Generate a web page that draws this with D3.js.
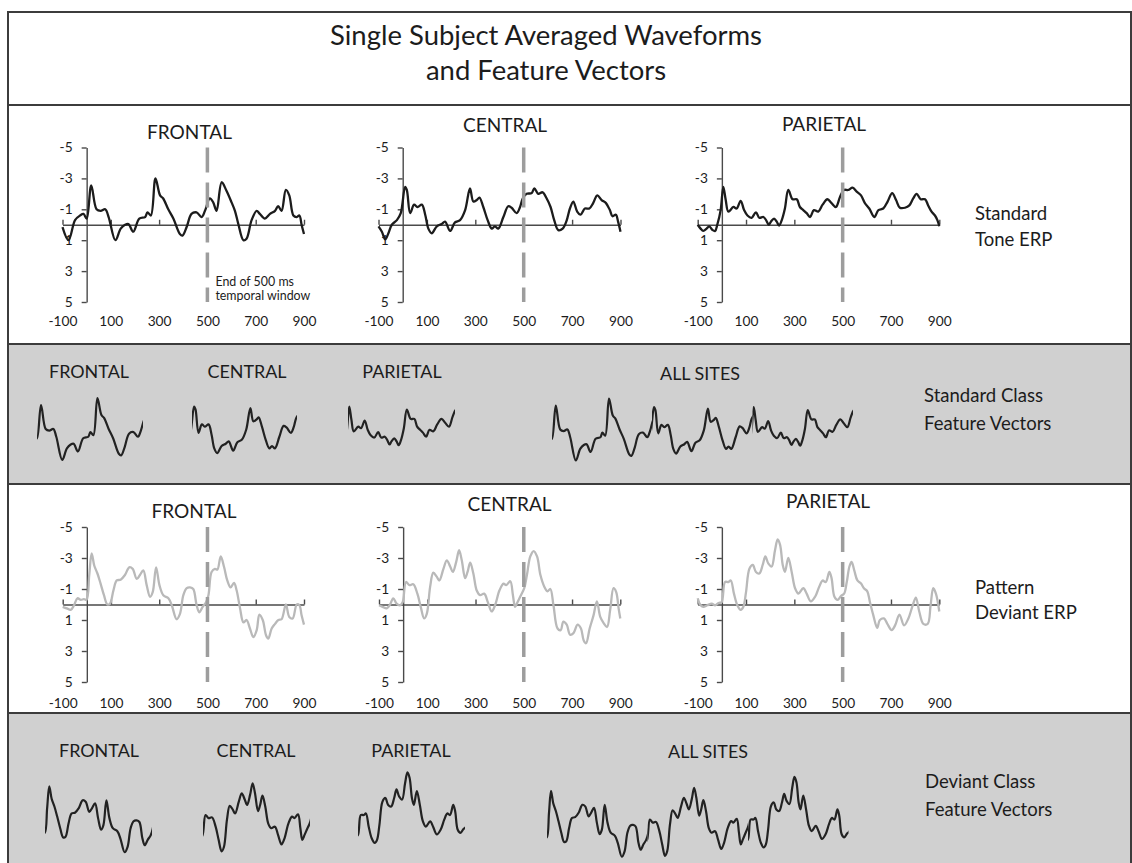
<!DOCTYPE html>
<html><head><meta charset="utf-8">
<script src="https://cdn.jsdelivr.net/npm/d3@7"></script>
<style>
body{margin:0;background:#fff}
svg{display:block}
text{font-family:Lato,"Open Sans",sans-serif;fill:#1c1c1c}
</style>
</head><body>
<svg id="c" width="1132" height="863"></svg>
<script>
// ---------------- DATA ----------------
const titleLines = ["Single Subject Averaged Waveforms", "and Feature Vectors"];
const sites = ["FRONTAL", "CENTRAL", "PARIETAL"];
const allSitesLabel = "ALL SITES";
const xTickValues = [-100, 100, 300, 500, 700, 900];
const yTickValues = [-5, -3, -1, 1, 3, 5];
const windowEnd = 500;
const windowNote = ["End of 500 ms", "temporal window"];
const rowLabels = [["Standard", "Tone ERP"], ["Standard Class", "Feature Vectors"], ["Pattern", "Deviant ERP"], ["Deviant Class", "Feature Vectors"]];

// [time ms, amplitude µV]  (negative plotted up)
const stdFrontal = [[-100,0.15],[-75,1.0],[-48,-0.3],[-27,-0.6],[-13,-0.7],[0,-0.4],[19,-2.55],[41,-1.0],[58,-0.9],[77,-1.0],[91,-0.5],[119,1.0],[141,0.25],[159,0.0],[173,-0.05],[193,0.45],[218,-0.4],[242,-0.5],[252,-0.8],[266,-0.6],[285,-3.0],[304,-1.9],[317,-1.7],[338,-1.0],[359,-0.4],[386,0.6],[397,0.7],[414,0.15],[434,-0.7],[455,-0.8],[476,-0.5],[490,-0.9],[510,-1.7],[524,-1.45],[538,-0.9],[559,-2.75],[579,-2.2],[600,-1.45],[614,-0.9],[628,-0.05],[649,1.0],[662,0.9],[683,-0.3],[704,-0.9],[717,-0.7],[738,-0.4],[759,-0.7],[780,-0.9],[793,-1.2],[807,-0.9],[825,-2.25],[839,-1.9],[856,-0.6],[870,-0.5],[881,-0.6],[890,0.0],[900,0.6]];
const stdCentral = [[-100,0.1],[-86,0.45],[-72,0.95],[-59,0.55],[-45,0.0],[-24,-0.3],[-8,-0.75],[10,-2.45],[17,-2.25],[31,-0.75],[47,-1.3],[61,-1.15],[79,-1.3],[93,-0.65],[106,0.25],[120,0.55],[141,0.1],[161,-0.05],[175,-0.2],[196,0.4],[216,-0.15],[237,-0.3],[258,-0.95],[278,-2.35],[292,-1.5],[306,-1.6],[317,-1.75],[333,-1.15],[351,-0.3],[368,0.25],[381,0.1],[395,0.25],[416,-0.5],[436,-1.2],[450,-1.1],[471,-0.75],[485,-1.15],[496,-1.7],[512,-2.0],[533,-2.05],[544,-2.35],[560,-2.0],[578,-2.1],[595,-1.7],[611,-1.15],[626,-0.3],[643,0.35],[661,0.25],[677,-0.25],[691,-1.05],[705,-1.5],[721,-0.85],[735,-0.65],[753,-1.05],[771,-1.05],[787,-1.4],[804,-1.9],[822,-1.6],[840,-1.4],[856,-0.95],[867,-0.55],[881,-0.65],[890,-0.2],[900,0.45]];
const stdParietal = [[-100,0.0],[-88,0.25],[-77,0.4],[-63,0.25],[-52,0.1],[-38,0.35],[-28,0.4],[-19,0.0],[-5,-0.95],[6,-2.45],[16,-1.6],[27,-0.85],[48,-1.15],[61,-1.05],[78,-1.55],[92,-0.95],[106,-0.6],[123,-0.45],[141,-0.8],[155,-0.45],[172,-0.5],[183,-0.3],[194,0.0],[203,-0.2],[216,-0.4],[227,-0.2],[237,0.05],[248,-0.3],[261,-1.05],[275,-2.25],[293,-1.65],[310,-1.65],[323,-1.15],[337,-0.95],[351,-0.75],[365,-0.5],[381,-0.95],[399,-0.85],[417,-1.3],[437,-1.65],[454,-1.4],[472,-1.15],[489,-1.8],[505,-2.25],[523,-2.25],[541,-2.4],[558,-2.15],[576,-1.9],[592,-1.4],[610,-1.05],[631,-0.5],[648,-0.95],[668,-1.05],[686,-1.5],[705,-2.05],[721,-1.6],[737,-1.1],[758,-1.1],[776,-1.25],[792,-1.7],[806,-2.0],[823,-1.65],[841,-1.65],[854,-1.25],[868,-0.85],[882,-0.6],[892,-0.3],[900,0.1]];
const devFrontal = [[-100,0.15],[-83,0.25],[-67,0.35],[-53,0.05],[-39,-0.4],[-25,-0.3],[-12,-0.35],[-1,-0.3],[10,-1.9],[20,-3.3],[31,-2.5],[44,-2.0],[57,-1.35],[71,-0.6],[85,0.0],[96,-0.05],[110,-0.9],[124,-1.55],[140,-1.6],[158,-1.9],[176,-2.4],[190,-2.3],[207,-1.65],[220,-1.9],[234,-2.2],[248,-1.25],[262,-0.5],[273,-0.8],[287,-2.4],[301,-1.25],[317,-0.6],[338,-0.4],[352,0.05],[372,0.95],[386,0.6],[400,-0.6],[414,-1.05],[428,-1.1],[441,-1.0],[455,0.05],[466,0.5],[480,0.15],[494,-0.15],[504,-0.6],[517,-2.1],[531,-2.3],[541,-2.25],[555,-3.1],[569,-2.4],[582,-1.55],[596,-1.1],[610,-1.4],[621,-0.9],[635,0.25],[649,1.15],[662,1.0],[676,1.55],[690,2.1],[704,1.65],[715,0.65],[729,1.0],[743,2.0],[752,2.2],[766,1.55],[780,1.25],[794,1.0],[807,0.95],[825,0.0],[839,0.8],[853,0.9],[870,0.0],[881,0.05],[890,0.7],[900,1.3]];
const devCentral = [[-100,0.05],[-85,0.15],[-68,0.25],[-54,0.0],[-41,-0.4],[-27,-0.05],[-13,0.05],[-2,-0.15],[12,-1.45],[26,-1.25],[42,-1.3],[59,-0.7],[73,0.15],[87,0.9],[98,0.6],[112,-1.15],[125,-2.05],[139,-1.8],[150,-1.55],[167,-2.3],[181,-2.85],[195,-2.45],[206,-2.1],[220,-2.75],[232,-3.5],[243,-2.85],[257,-1.7],[267,-2.1],[278,-2.7],[291,-2.0],[305,-0.9],[319,-0.6],[336,-0.7],[351,-0.15],[367,0.45],[381,0.05],[399,-0.9],[416,-1.35],[427,-1.25],[444,-1.5],[455,-0.6],[464,0.15],[474,-0.15],[485,-0.5],[502,-1.05],[513,-1.9],[527,-3.1],[541,-3.45],[555,-3.1],[569,-1.9],[585,-1.15],[598,-0.85],[610,-1.0],[623,0.05],[640,1.55],[653,1.65],[664,1.1],[678,1.3],[692,1.95],[706,1.85],[723,1.3],[737,1.55],[748,2.3],[758,2.5],[773,1.55],[789,0.7],[803,-0.2],[817,0.8],[831,1.2],[845,1.45],[858,0.35],[872,-1.05],[883,-0.8],[893,0.25],[900,0.9]];
const devParietal = [[-100,-0.4],[-90,0.0],[-77,0.15],[-60,0.05],[-42,-0.05],[-28,0.05],[-14,-0.1],[-1,-0.15],[13,-1.45],[27,-1.45],[37,-1.55],[50,-0.7],[64,0.05],[78,0.35],[89,0.15],[100,-0.8],[114,-2.3],[128,-2.55],[141,-2.1],[155,-2.0],[169,-2.55],[180,-3.1],[192,-2.65],[206,-2.45],[220,-3.5],[231,-4.2],[241,-3.85],[252,-2.55],[261,-2.1],[275,-3.0],[289,-2.1],[303,-1.05],[317,-0.7],[337,-1.05],[351,-0.7],[368,-0.2],[386,-0.5],[403,-1.15],[417,-1.55],[430,-1.45],[445,-2.1],[454,-1.7],[466,-0.5],[479,-0.3],[493,-0.55],[506,-0.7],[517,-1.45],[528,-2.45],[537,-2.75],[548,-2.2],[561,-1.55],[576,-1.35],[588,-1.05],[602,-0.85],[613,-0.15],[627,0.7],[643,1.5],[654,1.0],[671,0.9],[685,1.25],[703,1.65],[717,1.35],[735,0.65],[754,1.35],[772,0.9],[790,0.05],[803,-0.45],[817,0.45],[834,1.25],[852,1.25],[864,0.05],[875,-1.05],[886,-0.7],[900,0.45]];

// ---------------- LAYOUT ----------------
const svg = d3.select("#c");
const INK = "#1c1c1c", RULE = "#3c3c3c", AXIS = "#4a4a4a", BAND = "#d0d0d0";

function fitSize(str, target) {
  const t = svg.append("text").style("font-size", "100px").text(str);
  const w = t.node().getComputedTextLength();
  t.remove();
  return 100 * target / w;
}
const fsTitle = fitSize(titleLines[0], 432);
const fsSub = fitSize("FRONTAL", 85);
const fsVec = fitSize("FRONTAL", 80);
const fsRow = fitSize("Standard Class", 119);
const fsTick = fitSize("-100", 29);
const fsNote = fitSize(windowNote[1], 95);

// bands
svg.append("rect").attr("x", 8).attr("y", 344).attr("width", 1123).attr("height", 140).attr("fill", BAND);
svg.append("rect").attr("x", 8).attr("y", 713).attr("width", 1123).attr("height", 160).attr("fill", BAND);
// rules
[12, 105, 344, 484, 713].forEach(yy => svg.append("line").attr("x1", 8).attr("x2", 1131).attr("y1", yy).attr("y2", yy)
  .attr("stroke", RULE).attr("stroke-width", 2));
[8, 1131].forEach(xx => svg.append("line").attr("x1", xx).attr("x2", xx).attr("y1", 11).attr("y2", 863)
  .attr("stroke", RULE).attr("stroke-width", 2));

// title
svg.append("text").attr("x", 546).attr("y", 45).attr("text-anchor", "middle").style("font-size", fsTitle + "px").text(titleLines[0]);
svg.append("text").attr("x", 546).attr("y", 80).attr("text-anchor", "middle").style("font-size", fsTitle + "px").text(titleLines[1]);

// ERP charts
const charts = [
  {data: stdFrontal, x0: 62.5, x1: 304,   y0: 147.5, y1: 302, color: INK, title: sites[0], tx: 189.5, ty: 139.3, lab: 326, note: true},
  {data: stdCentral, x0: 378.5, x1: 620.5, y0: 147.5, y1: 302, color: INK, title: sites[1], tx: 505,   ty: 132.3, lab: 326},
  {data: stdParietal,x0: 697.7, x1: 939.3, y0: 147.5, y1: 302, color: INK, title: sites[2], tx: 824,   ty: 130.7, lab: 326},
  {data: devFrontal, x0: 62.7, x1: 304,   y0: 527,   y1: 682, color: "#b9b9b9", title: sites[0], tx: 194,   ty: 518, lab: 708},
  {data: devCentral, x0: 379, x1: 620.3,  y0: 527,   y1: 682, color: "#b9b9b9", title: sites[1], tx: 509.5, ty: 510.7, lab: 708},
  {data: devParietal,x0: 697.7, x1: 939.3, y0: 527,  y1: 682, color: "#b9b9b9", title: sites[2], tx: 828,   ty: 508.3, lab: 708}
];

charts.forEach(c => {
  const g = svg.append("g");
  const x = d3.scaleLinear().domain([-100, 900]).range([c.x0, c.x1]);
  const y = d3.scaleLinear().domain([-5, 5]).range([c.y0, c.y1]);
  const zero = y(0);

  // y axis
  const ya = g.append("g").attr("transform", `translate(${x(0)},0)`)
    .call(d3.axisLeft(y).tickValues(yTickValues).tickFormat(d => String(d)).tickSizeInner(5).tickSizeOuter(0).tickPadding(9));
  // x axis (ticks up, labels below)
  const pad = c.lab - zero - 0.71 * fsTick;
  const xa = g.append("g").attr("transform", `translate(0,${zero})`)
    .call(d3.axisBottom(x).tickValues(xTickValues).tickFormat(d => String(d)).tickSizeInner(-5).tickSizeOuter(0).tickPadding(pad));
  [ya, xa].forEach(a => {
    a.selectAll("path,line").attr("stroke", AXIS).attr("stroke-width", 1.4);
    a.selectAll("text").style("font-size", fsTick + "px").style("font-family", "Lato,'Open Sans',sans-serif").attr("fill", INK);
  });

  // waveform
  const line = d3.line().x(d => x(d[0])).y(d => y(d[1])).curve(d3.curveCatmullRom.alpha(0.5));
  g.append("path").datum(c.data).attr("d", line).attr("fill", "none").attr("stroke", c.color)
    .attr("stroke-width", 2.3).attr("stroke-linejoin", "round");

  // end-of-window dashed marker
  g.append("line").attr("x1", x(windowEnd)).attr("x2", x(windowEnd)).attr("y1", c.y0).attr("y2", c.y1)
    .attr("stroke", "#9d9d9d").attr("stroke-width", 3.5).attr("stroke-dasharray", "25,10");

  // title
  g.append("text").attr("x", c.tx).attr("y", c.ty).attr("text-anchor", "middle").style("font-size", fsSub + "px").text(c.title);

  if (c.note) {
    g.append("text").attr("x", x(windowEnd) + 8).attr("y", 286).style("font-size", fsNote + "px").attr("fill", "#a3a3a3").text(windowNote[0]);
    g.append("text").attr("x", x(windowEnd) + 8).attr("y", 299.5).style("font-size", fsNote + "px").attr("fill", "#a3a3a3").text(windowNote[1]);
  }
});

// feature vectors (0–500 ms window of each ERP)
const vectors = [
  {data: stdFrontal, x0: 37,  x1: 143, base: 444.5},
  {data: stdCentral, x0: 192, x1: 297, base: 444.5},
  {data: stdParietal,x0: 348, x1: 455, base: 444.5},
  {data: stdFrontal, x0: 552, x1: 652, base: 445},
  {data: stdCentral, x0: 652, x1: 752.5, base: 445},
  {data: stdParietal,x0: 752.5, x1: 853, base: 445},
  {data: devFrontal, x0: 45,  x1: 152, base: 837.5},
  {data: devCentral, x0: 203, x1: 310, base: 837.5},
  {data: devParietal,x0: 358, x1: 465, base: 837.5},
  {data: devFrontal, x0: 547, x1: 647.5, base: 842},
  {data: devCentral, x0: 647.5, x1: 748, base: 842},
  {data: devParietal,x0: 748, x1: 848.5, base: 842}
];
const defs = svg.append("defs");
vectors.forEach((v, i) => {
  const x = d3.scaleLinear().domain([0, windowEnd]).range([v.x0, v.x1]);
  const y = d3.scaleLinear().domain([0, 1]).range([v.base, v.base + 15.5]);
  defs.append("clipPath").attr("id", "vc" + i).append("rect")
    .attr("x", v.x0).attr("y", 0).attr("width", v.x1 - v.x0).attr("height", 863);
  const line = d3.line().x(d => x(d[0])).y(d => y(d[1])).curve(d3.curveCatmullRom.alpha(0.5));
  svg.append("path").datum(v.data.filter(d => d[0] >= -30 && d[0] <= 530)).attr("d", line)
    .attr("clip-path", `url(#vc${i})`).attr("fill", "none").attr("stroke", "#222").attr("stroke-width", 2.2)
    .attr("stroke-linejoin", "round");
});

// feature vector labels
const vecLabels = [
  {t: sites[0], x: 89, y: 378.3}, {t: sites[1], x: 247, y: 378.3}, {t: sites[2], x: 402, y: 378.3}, {t: allSitesLabel, x: 700, y: 380},
  {t: sites[0], x: 99, y: 756.7}, {t: sites[1], x: 256, y: 756.7}, {t: sites[2], x: 411, y: 756.7}, {t: allSitesLabel, x: 708, y: 758}
];
vecLabels.forEach(l => svg.append("text").attr("x", l.x).attr("y", l.y).attr("text-anchor", "middle")
  .style("font-size", fsVec + "px").text(l.t));

// row labels on the right
const rowPos = [{x: 975, y: [220, 246]}, {x: 924, y: [401.7, 430]}, {x: 975, y: [594, 619]}, {x: 925, y: [788, 816]}];
rowLabels.forEach((lines, i) => lines.forEach((t, j) =>
  svg.append("text").attr("x", rowPos[i].x).attr("y", rowPos[i].y[j]).style("font-size", fsRow + "px").text(t)));
</script>
</body></html>
